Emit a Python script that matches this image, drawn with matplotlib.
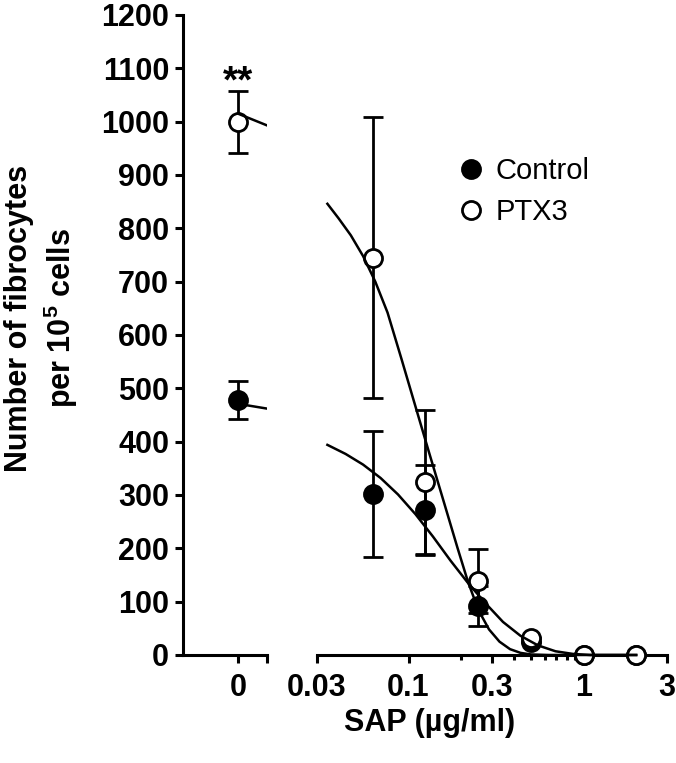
import numpy as np
import matplotlib
matplotlib.use('Agg')
import matplotlib.pyplot as plt

plt.rcParams['font.family'] = ['Liberation Sans', 'DejaVu Sans']
plt.rcParams['mathtext.fontset'] = 'custom'
plt.rcParams['mathtext.bf'] = 'Liberation Sans:bold'
plt.rcParams['mathtext.rm'] = 'Liberation Sans:bold'

# --- data ---
sap = [0.0625, 0.125, 0.25, 0.5, 1, 2]
control = [302, 272, 92, 25, 0, 0]
control_err = [118, 84, 38, 0, 0, 0]
ptx3 = [745, 324, 139, 32, 0, 0]
ptx3_err = [264, 135, 60, 0, 0, 0]

# untreated (SAP = 0)
control_zero = 478
control_zero_err = 35
ptx3_zero = 1000
ptx3_zero_err = 58

# fitted curves
control_fit_x = [0.0344, 0.0437, 0.0550, 0.0692, 0.0871, 0.1096, 0.1380, 0.1738, 0.2188, 0.2754,
                 0.3467, 0.4365, 0.5495, 0.6918, 0.871, 1.096, 2.0]
control_fit_y = [394, 377, 357, 332, 301, 264, 222, 177, 135, 97, 62, 36, 18, 7, 2, 0, 0]
ptx3_fit_x = [0.0344, 0.0398, 0.0468, 0.0550, 0.0646, 0.0759, 0.0912, 0.1096, 0.1318, 0.1585, 0.1905,
              0.2188, 0.2512, 0.2884, 0.3311, 0.3802, 0.4365, 0.5012, 0.631, 1.0, 2.0]
ptx3_fit_y = [846, 819, 787, 748, 700, 642, 555, 466, 377, 289, 201, 137, 84, 48, 25, 11, 4, 1, 0, 0, 0]
# short curve pieces in the "0" segment
stub_x = [0, 1]
control_stub_y = [471, 462]
ptx3_stub_y = [1015, 993]

yticks = list(range(0, 1300, 100))
xticks_right = [0.03, 0.1, 0.3, 1, 3]
xticklabels_right = ['0.03', '0.1', '0.3', '1', '3']
minor_right = [0.2, 0.4, 0.5, 0.6, 0.7, 0.8, 0.9, 2]

LW = 2.2
W, H = 676, 763
fig = plt.figure(figsize=(W / 100, H / 100), dpi=100)

bottom = 1 - 655 / H
height = 640 / H
ax_l = fig.add_axes([183 / W, bottom, 84 / W, height])
ax_r = fig.add_axes([317 / W, bottom, 350 / W, height])

mk = dict(marker='o', markersize=13, markeredgewidth=2, markeredgecolor='black', linestyle='none',
          ecolor='black', elinewidth=2, capsize=7.5, capthick=2, clip_on=False)

# left segment (SAP = 0)
ax_l.errorbar([0], [control_zero], yerr=[control_zero_err], markerfacecolor='black', zorder=3, **mk)
ax_l.errorbar([0], [ptx3_zero], yerr=[ptx3_zero_err], markerfacecolor='white', zorder=3, **mk)
ax_l.plot(stub_x, control_stub_y, color='black', lw=1.8, zorder=4)
ax_l.plot(stub_x, ptx3_stub_y, color='black', lw=1.8, zorder=4)
ax_l.text(0, 1054, '**', ha='center', va='baseline', fontsize=28, fontweight='bold')

ax_l.set_xlim(-1.9, 1)
ax_l.set_ylim(0, 1200)
ax_l.set_xticks([0, 1])
ax_l.set_xticklabels(['0', ''])
ax_l.set_yticks(yticks)
ax_l.set_yticklabels([str(v) for v in yticks])
ax_l.spines['top'].set_visible(False)
ax_l.spines['right'].set_visible(False)

# right segment (log SAP)
ax_r.errorbar(sap, control, yerr=control_err, markerfacecolor='black', zorder=3, label='Control', **mk)
ax_r.errorbar(sap, ptx3, yerr=ptx3_err, markerfacecolor='white', zorder=3, label='PTX3', **mk)
ax_r.plot(control_fit_x, control_fit_y, color='black', lw=1.8, zorder=4, clip_on=False)
ax_r.plot(ptx3_fit_x, ptx3_fit_y, color='black', lw=1.8, zorder=4, clip_on=False)

ax_r.set_xscale('log')
ax_r.set_xlim(0.03, 3)
ax_r.set_ylim(0, 1200)
ax_r.set_xticks(xticks_right)
ax_r.set_xticklabels(xticklabels_right)
ax_r.set_xticks(minor_right, minor=True)
ax_r.set_xticklabels([], minor=True)
ax_r.set_yticks([])
for s in ['top', 'right', 'left']:
    ax_r.spines[s].set_visible(False)

for ax in (ax_l, ax_r):
    for s in ax.spines.values():
        s.set_linewidth(LW)
    ax.tick_params(axis='both', which='major', direction='out', length=6, width=LW, labelsize=22, pad=4)
    ax.tick_params(axis='x', which='major', pad=7)
    ax.tick_params(axis='x', which='minor', direction='out', length=3.5, width=LW)
    for lab in ax.get_xticklabels() + ax.get_yticklabels():
        lab.set_fontweight('bold')
    ax.patch.set_visible(False)

handles, labels = ax_r.get_legend_handles_labels()
handles = [h[0] for h in handles]
fig.legend(handles, labels, loc='upper left', bbox_to_anchor=(456 / W, 1 - 157 / H), frameon=False,
           fontsize=21, handlelength=1.0, handletextpad=0.36, borderpad=0, borderaxespad=0, labelspacing=0.45)

fig.text(42 / W, 1 - 318 / H, 'Number of fibrocytes\nper 10$^{5}$ cells', rotation=90, ha='center', va='center',
         multialignment='center', fontsize=22, fontweight='bold', linespacing=1.25)
fig.text(430 / W, 1 - 723 / H, 'SAP (\u00b5g/ml)', ha='center', va='center', fontsize=22, fontweight='bold')

fig.savefig('out.png', dpi=100)
